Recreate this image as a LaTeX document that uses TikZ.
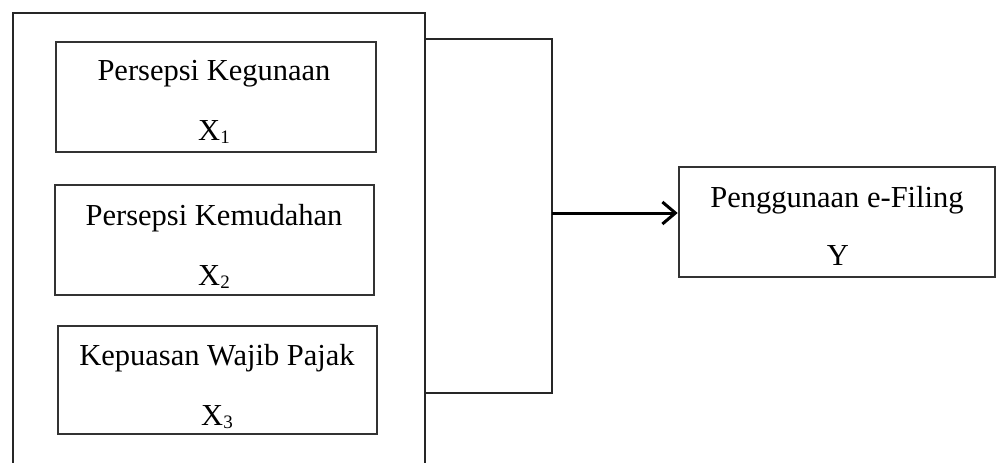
\documentclass[tikz,border=0pt]{standalone}
\usepackage{fontspec}
\setmainfont{Liberation Serif}
\usetikzlibrary{arrows.meta}
\newcommand\subx[1]{X\raisebox{-3.5pt}{\fontsize{19}{19}\selectfont #1}}
\tikzset{
  boxst/.style={draw=black!80, line width=2.6pt, rectangle, inner sep=0pt},
  framest/.style={draw=black!85, line width=2pt, rectangle, inner sep=0pt},
  lbl/.style={anchor=base, inner sep=0pt, font=\fontsize{30.5}{36}\selectfont},
  linkst/.style={draw=black!85, line width=2pt},
  arrowst/.style={draw=black, line width=3pt, -{Straight Barb[length=13pt,width=22pt]}}
}
\begin{document}
\begin{tikzpicture}[x=1pt,y=-1pt]
\clip (0,0) rectangle (996,463);
\fill[white] (0,0) rectangle (996,463);
% outer frame
\node[framest, minimum width=412pt, minimum height=480pt] (outer) at (219,252.5) {};
% inner boxes
\node[boxst, minimum width=320pt, minimum height=110pt] (b1) at (216,97) {};
\node[boxst, minimum width=319pt, minimum height=110pt] (b2) at (214.5,240) {};
\node[boxst, minimum width=319pt, minimum height=108pt] (b3) at (217.5,380) {};
\node[boxst, minimum width=316pt, minimum height=110pt] (rb) at (837,222) {};
% labels
\node[lbl] (t1) at (214,80) {Persepsi Kegunaan};
\node[lbl] (s1) at (214,140) {\subx{1}};
\node[lbl] (t2) at (214,225) {Persepsi Kemudahan};
\node[lbl] (s2) at (214,285) {\subx{2}};
\node[lbl] (t3) at (217,365) {Kepuasan Wajib Pajak};
\node[lbl] (s3) at (217,425) {\subx{3}};
\node[lbl] (t4) at (837,207) {Penggunaan e-Filing};
\node[lbl] (s4) at (838,265) {Y};
% bracket
\coordinate (k1) at (552,39);
\coordinate (k2) at (552,393);
\coordinate (km) at (552,213);
\draw[linkst] (k1 -| outer.east) -- (k1) -- (k2) -- (k2 -| outer.east);
\draw[arrowst] (km) -- (km -| rb.west);
\end{tikzpicture}
\end{document}
